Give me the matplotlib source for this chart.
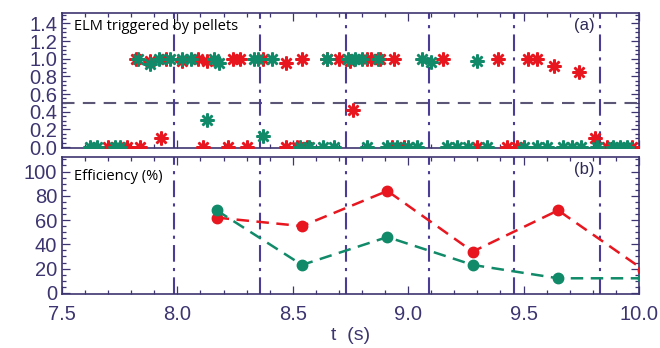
import matplotlib
matplotlib.use("Agg")
import matplotlib.pyplot as plt
from matplotlib.ticker import MultipleLocator

# ---- data ----
red_top_t = [7.82, 7.88, 7.95, 8.02, 8.09, 8.13, 8.24, 8.27, 8.37, 8.47, 8.54, 8.65,
             8.70, 8.75, 8.82, 8.84, 8.88, 8.94, 9.15, 9.39, 9.52, 9.56, 9.63, 9.74]
red_top_v = [1.0, 0.98, 1.0, 0.98, 1.0, 0.98, 1.0, 1.0, 1.0, 0.95, 1.0, 1.0,
             1.0, 0.98, 1.0, 1.0, 1.0, 1.0, 1.0, 1.0, 1.0, 1.0, 0.92, 0.85]
red_mid_t = [7.93, 8.76, 9.81]
red_mid_v = [0.10, 0.42, 0.10]
red_bot_t = [7.70, 7.78, 7.84, 8.11, 8.22, 8.30, 8.47, 8.52, 8.56, 8.93, 8.98,
             9.30, 9.43, 9.47, 9.86, 9.97]
red_bot_v = [0.0] * len(red_bot_t)

green_top_t = [7.83, 7.88, 7.92, 7.97, 8.02, 8.06, 8.16, 8.18, 8.33, 8.35, 8.41,
               8.65, 8.74, 8.77, 8.80, 8.87, 9.06, 9.10, 9.30]
green_top_v = [1.0, 0.94, 1.0, 1.0, 1.0, 1.0, 1.0, 0.95, 1.0, 1.0, 1.0,
               1.0, 1.0, 1.0, 1.0, 1.0, 1.0, 0.96, 0.97]
green_mid_t = [8.13, 8.37]
green_mid_v = [0.31, 0.12]
green_bot_t = [7.62, 7.65, 7.73, 7.75, 8.53, 8.57, 8.63, 8.68, 8.82, 8.91, 8.95,
               9.00, 9.04, 9.17, 9.21, 9.26, 9.34, 9.50, 9.56, 9.60, 9.67, 9.71,
               9.75, 9.82, 9.89, 9.92, 9.95]
green_bot_v = [0.0] * len(green_bot_t)

pellet_t = [7.985, 8.36, 8.73, 9.09, 9.46, 9.83]

eff_t = [8.17, 8.54, 8.91, 9.28, 9.65, 10.02]
eff_red = [62, 55, 84, 34, 68, 19]
eff_green = [68, 23, 46, 23, 12, 12]

xticks = [7.5, 8.0, 8.5, 9.0, 9.5, 10.0]
xticklabels = ["7.5", "8.0", "8.5", "9.0", "9.5", "10.0"]
yticks_a = [0.0, 0.2, 0.4, 0.6, 0.8, 1.0, 1.2, 1.4]
yticks_b = [0, 20, 40, 60, 80, 100]

RED = "#e8161f"
GREEN = "#108a68"
FRAME = "#3d3570"
VLINE = "#4b3c96"
HLINE = "#5b5675"

plt.rcParams['font.family'] = ['Liberation Sans', 'DejaVu Sans']

fig = plt.figure(figsize=(6.6, 3.48), dpi=100)
axa = fig.add_axes([0.094, 0.575, 0.874, 0.388])
axb = fig.add_axes([0.094, 0.155, 0.874, 0.394])

def style(ax):
    for s in ax.spines.values():
        s.set_color(FRAME)
        s.set_linewidth(1.2)
    ax.tick_params(which='both', direction='in', colors=FRAME, top=True, right=True,
                   labelsize=14.5, width=0.9)
    ax.tick_params(which='major', length=6)
    ax.tick_params(which='minor', length=3)
    ax.set_xlim(7.5, 10.0)
    ax.set_xticks(xticks)
    ax.xaxis.set_minor_locator(MultipleLocator(0.1))

# ---- panel a ----
for tt, vv, c in [(red_top_t, red_top_v, RED), (red_mid_t, red_mid_v, RED),
                  (red_bot_t, red_bot_v, RED),
                  (green_top_t, green_top_v, GREEN), (green_mid_t, green_mid_v, GREEN),
                  (green_bot_t, green_bot_v, GREEN)]:
    axa.plot(tt, vv, linestyle='none', marker=(8, 2, 0), markersize=10,
             markeredgewidth=1.8, color=c, zorder=3)
    axa.plot(tt, vv, linestyle='none', marker='o', markersize=4,
             markeredgewidth=0, color=c, zorder=3)
axa.axhline(0.5, color=HLINE, linestyle=(0, (6, 4)), linewidth=1.5, zorder=2)
for p in pellet_t:
    axa.axvline(p, color=VLINE, linestyle=(0, (8, 3, 1.5, 3)), linewidth=1.5, zorder=2)
axa.set_ylim(-0.01, 1.52)
axa.set_yticks(yticks_a)
axa.set_yticklabels([f"{v:.1f}" for v in yticks_a])
axa.yaxis.set_minor_locator(MultipleLocator(0.05))
style(axa)
axa.set_xticklabels([])
axa.text(0.02, 0.90, "ELM triggered by pellets", transform=axa.transAxes,
         fontsize=10.5, family=['Open Sans', 'DejaVu Sans'], va='center', color='black')
axa.text(0.905, 0.91, "(a)", transform=axa.transAxes, fontsize=12, color="#2e2a55",
         va='center', ha='center')

# ---- panel b ----
for p in pellet_t:
    axb.axvline(p, color=VLINE, linestyle=(0, (8, 3, 1.5, 3)), linewidth=1.5, zorder=2)
axb.plot(eff_t, eff_red, color=RED, linestyle=(0, (5, 3)), linewidth=1.8,
         marker='o', markersize=7.5, zorder=3)
axb.plot(eff_t, eff_green, color=GREEN, linestyle=(0, (5, 3)), linewidth=1.8,
         marker='o', markersize=7.5, zorder=3)
axb.set_ylim(-1, 112)
axb.set_yticks(yticks_b)
axb.yaxis.set_minor_locator(MultipleLocator(5))
style(axb)
axb.set_xticklabels(xticklabels)
axb.tick_params(axis='x', pad=8)
axb.text(0.02, 0.86, "Efficiency (%)", transform=axb.transAxes,
         fontsize=10.5, family=['Open Sans', 'DejaVu Sans'], va='center', color='black')
axb.text(0.905, 0.91, "(b)", transform=axb.transAxes, fontsize=12, color="#2e2a55",
         va='center', ha='center')
axb.set_xlabel("t  (s)", fontsize=14, color=FRAME, labelpad=2)

fig.savefig("out.png", dpi=100)
